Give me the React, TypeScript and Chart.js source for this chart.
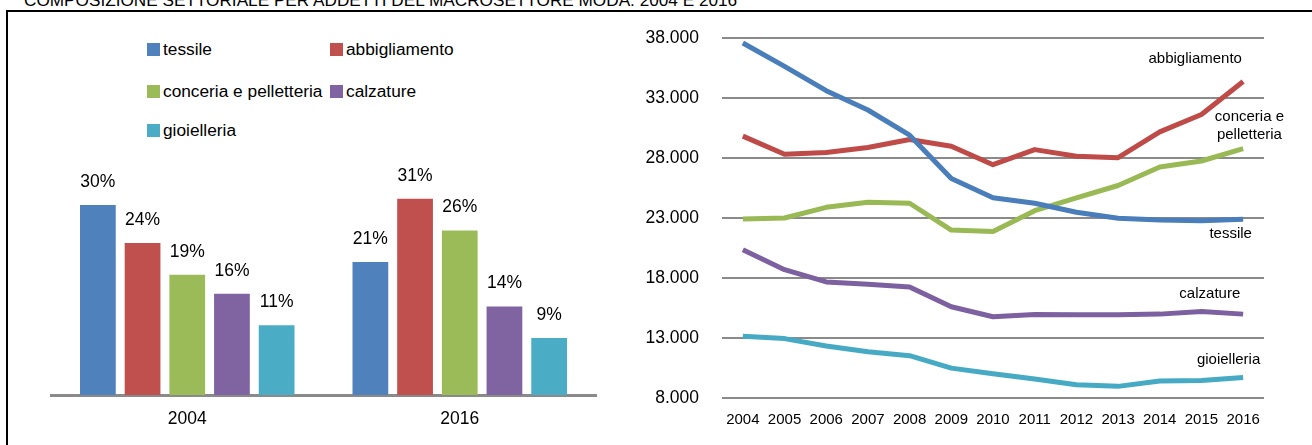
import React, { useEffect, useRef } from "react";
import { Chart, registerables } from "chart.js";

Chart.register(...registerables);

const FONT = "'Liberation Sans', Arial, Helvetica, sans-serif";
const BIG = 17.5; // main text size
const SMALL = 15; // year ticks and line captions

// ---- Left chart: sector composition (shares, %)
const sectors = ["tessile", "abbigliamento", "conceria e pelletteria", "calzature", "gioielleria"];
const sectorColors = ["#4F81BD", "#C0504D", "#9BBB59", "#8064A2", "#4BACC6"];
const barYears = ["2004", "2016"];
const share2004 = [30, 24, 19, 16, 11];
const share2016 = [21, 31, 26, 14, 9];

// ---- Right chart: employees per sector 2004-2016
const years = ["2004", "2005", "2006", "2007", "2008", "2009", "2010", "2011", "2012", "2013", "2014", "2015", "2016"];
const tessile = [37580, 35630, 33610, 32000, 29900, 26300, 24680, 24230, 23480, 22980, 22830, 22780, 22890];
const abbigliamento = [29820, 28310, 28450, 28870, 29540, 28980, 27440, 28700, 28140, 28030, 30180, 31630, 34370];
const conceria = [22920, 23000, 23890, 24310, 24230, 21990, 21880, 23610, 24680, 25710, 27250, 27750, 28780];
const calzature = [20350, 18690, 17670, 17480, 17250, 15600, 14770, 14960, 14930, 14930, 14990, 15210, 14990];
const gioielleria = [13150, 12950, 12330, 11860, 11530, 10490, 10020, 9580, 9110, 8970, 9410, 9460, 9710];
const lineSeries = [tessile, abbigliamento, conceria, calzature, gioielleria];
const lineColors = ["#4A7EBB", "#BE4B48", "#98B954", "#7D60A0", "#46AAC5"];

const yMin = 8000;
const yMax = 38000;
const yStep = 5000;

// series name captions placed next to the lines (data coordinates)
const lineLabels = [
  { text: "abbigliamento", xi: 10.85, y: 36250 },
  { text: "conceria e", xi: 12.15, y: 31420 },
  { text: "pelletteria", xi: 12.15, y: 29900 },
  { text: "tessile", xi: 11.7, y: 21650 },
  { text: "calzature", xi: 11.2, y: 16700 },
  { text: "gioielleria", xi: 11.65, y: 11150 },
];

const titleText = "COMPOSIZIONE SETTORIALE PER ADDETTI DEL MACROSETTORE MODA: 2004 E 2016";

const fmtIt = (v: number | string) => String(v).replace(/\B(?=(\d{3})+(?!\d))/g, ".");

const barLabelPlugin = {
  id: "barLabels",
  afterDatasetsDraw(chart: any) {
    const ctx = chart.ctx;
    ctx.save();
    ctx.font = `${BIG}px ${FONT}`;
    ctx.fillStyle = "#000";
    ctx.textAlign = "center";
    ctx.textBaseline = "middle";
    chart.data.datasets.forEach((ds: any, di: number) => {
      const meta = chart.getDatasetMeta(di);
      meta.data.forEach((el: any, i: number) => {
        ctx.fillText(`${ds.data[i]}%`, el.x, el.y - 23);
      });
    });
    ctx.restore();
  },
};

const lineLabelPlugin = {
  id: "lineLabels",
  afterDatasetsDraw(chart: any) {
    const ctx = chart.ctx;
    const xs = chart.scales.x;
    const ys = chart.scales.y;
    ctx.save();
    ctx.font = `${SMALL}px ${FONT}`;
    ctx.fillStyle = "#000";
    ctx.textAlign = "center";
    ctx.textBaseline = "middle";
    lineLabels.forEach((l) => {
      ctx.fillText(l.text, xs.getPixelForValue(l.xi), ys.getPixelForValue(l.y));
    });
    ctx.restore();
  },
};

function BarChart() {
  const ref = useRef<HTMLCanvasElement>(null);
  useEffect(() => {
    const pxPerUnit = 6.33;
    const maxV = 35;
    const chart = new Chart(ref.current as HTMLCanvasElement, {
      type: "bar",
      data: {
        labels: barYears,
        datasets: sectors.map((s, i) => ({
          label: s,
          data: [share2004[i], share2016[i]],
          backgroundColor: sectorColors[i],
          borderWidth: 0,
          categoryPercentage: 0.82,
          barPercentage: 0.8,
        })),
      },
      options: {
        responsive: false,
        animation: false,
        layout: { padding: { left: 51, right: 44, top: 395 - maxV * pxPerUnit, bottom: 0 } },
        plugins: { legend: { display: false }, tooltip: { enabled: false } },
        scales: {
          x: {
            grid: { display: false, drawTicks: false },
            border: { display: true, color: "#8a8a8a", width: 3 },
            ticks: { color: "#000", font: { family: FONT, size: BIG }, padding: 14 },
            afterFit: (s: any) => {
              s.height = 50;
            },
          },
          y: { display: false, min: 0, max: maxV },
        },
      } as any,
      plugins: [barLabelPlugin],
    });
    return () => chart.destroy();
  }, []);
  return (
    <canvas
      ref={ref}
      width={640}
      height={445}
      style={{ position: "absolute", left: 0, top: 0, width: 640, height: 445 }}
    />
  );
}

function LineChart() {
  const ref = useRef<HTMLCanvasElement>(null);
  useEffect(() => {
    const chart = new Chart(ref.current as HTMLCanvasElement, {
      type: "line",
      data: {
        labels: years,
        datasets: lineSeries.map((d, i) => ({
          label: sectors[i],
          data: d,
          borderColor: lineColors[i],
          backgroundColor: lineColors[i],
          borderWidth: 5,
          pointRadius: 0,
          tension: 0,
          fill: false,
          borderJoinStyle: "round",
        })),
      },
      options: {
        responsive: false,
        animation: false,
        layout: { padding: { left: 0, right: 48, top: 38, bottom: 0 } },
        plugins: { legend: { display: false }, tooltip: { enabled: false } },
        scales: {
          x: {
            offset: true,
            grid: { display: false, drawTicks: false },
            border: { display: false },
            ticks: {
              color: "#000",
              font: { family: FONT, size: SMALL },
              padding: 13,
              maxRotation: 0,
              autoSkip: false,
            },
            afterFit: (s: any) => {
              s.height = 47;
            },
          },
          y: {
            min: yMin,
            max: yMax,
            grid: { color: "#8a8a8a", lineWidth: 2, drawTicks: false },
            border: { display: false },
            ticks: {
              stepSize: yStep,
              color: "#000",
              font: { family: FONT, size: BIG },
              padding: 23,
              callback: (v: any) => fmtIt(v),
            },
            afterFit: (s: any) => {
              s.width = 102;
            },
          },
        },
      } as any,
      plugins: [lineLabelPlugin],
    });
    return () => chart.destroy();
  }, []);
  return (
    <canvas
      ref={ref}
      width={692}
      height={445}
      style={{ position: "absolute", left: 620, top: 0, width: 692, height: 445 }}
    />
  );
}

function Legend() {
  const rowCenters = [49, 91, 130];
  const colLefts = [147, 330];
  return (
    <>
      {sectors.map((s, i) => {
        const row = Math.floor(i / 2);
        const col = i % 2;
        return (
          <div
            key={s}
            style={{
              position: "absolute",
              left: colLefts[col],
              top: rowCenters[row] - 13,
              height: 26,
              display: "flex",
              alignItems: "center",
              whiteSpace: "nowrap",
              fontFamily: FONT,
              fontSize: 17.3,
              color: "#000",
            }}
          >
            <span
              style={{
                display: "inline-block",
                width: 13,
                height: 13,
                background: sectorColors[i],
                marginRight: 3,
              }}
            />
            <span>{s}</span>
          </div>
        );
      })}
    </>
  );
}

export default function App() {
  return (
    <div
      style={{
        position: "absolute",
        left: 0,
        top: 0,
        width: 1312,
        height: 445,
        overflow: "hidden",
        background: "#fff",
      }}
    >
      <div
        style={{
          position: "absolute",
          left: 24,
          top: -8,
          fontFamily: FONT,
          fontSize: 17.2,
          lineHeight: "17px",
          whiteSpace: "nowrap",
          color: "#000",
        }}
      >
        {titleText}
      </div>
      <div
        style={{
          position: "absolute",
          left: 6,
          top: 10,
          width: 1400,
          height: 600,
          border: "2px solid #000",
        }}
      />
      <Legend />
      <BarChart />
      <LineChart />
    </div>
  );
}
